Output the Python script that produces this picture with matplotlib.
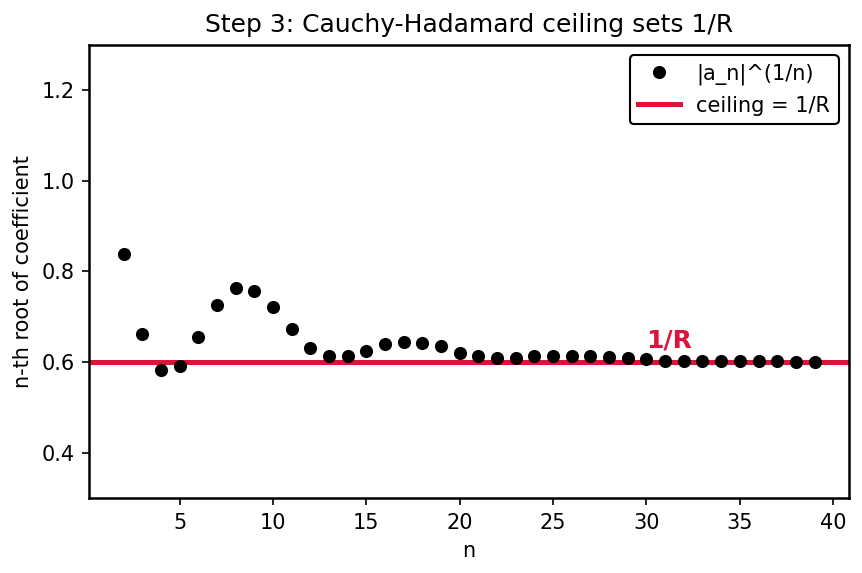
import matplotlib
matplotlib.use("Agg")
import matplotlib.pyplot as plt

# -----------------------------
# DATA
# -----------------------------
n_values = list(range(2, 40))
root_values = [
    0.838, 0.663, 0.582, 0.592, 0.655, 0.725, 0.763, 0.758, 0.721, 0.672,   # n=2..11
    0.631, 0.614, 0.614, 0.624, 0.640, 0.645, 0.643, 0.635, 0.621, 0.614,   # n=12..21
    0.610, 0.608, 0.614, 0.614, 0.614, 0.614, 0.612, 0.610, 0.606, 0.603,   # n=22..31
    0.603, 0.603, 0.603, 0.603, 0.603, 0.602, 0.601, 0.601,                 # n=32..39
]
ceiling = 0.6
label_n = 30

# -----------------------------
# PLOT
# -----------------------------
DPI = 150
fig, ax = plt.subplots(figsize=(862 / DPI, 573 / DPI), dpi=DPI)
fig.subplots_adjust(left=0.1033, right=0.985, top=0.9215, bottom=0.1309)

ax.plot(n_values, root_values, "o", color="black", markersize=5.3,
        label="|a_n|^(1/n)", zorder=3)
ax.axhline(ceiling, color="crimson", linewidth=2.4, label="ceiling = 1/R", zorder=2)
ax.text(label_n, ceiling + 0.022, "1/R", color="crimson", fontsize=12,
        fontweight="bold", ha="left", va="bottom")

ax.set_ylim(0.3, 1.3)
ax.set_yticks([0.4, 0.6, 0.8, 1.0, 1.2])
ax.set_xticks([5, 10, 15, 20, 25, 30, 35, 40])
ax.set_xlabel("n")
ax.set_ylabel("n-th root of coefficient")
ax.set_title("Step 3: Cauchy-Hadamard ceiling sets 1/R", fontsize=12)

for spine in ax.spines.values():
    spine.set_linewidth(1.2)

leg = ax.legend(loc="upper right", framealpha=1, edgecolor="black")
leg.get_frame().set_linewidth(1.0)

fig.savefig("out.png", dpi=DPI)
